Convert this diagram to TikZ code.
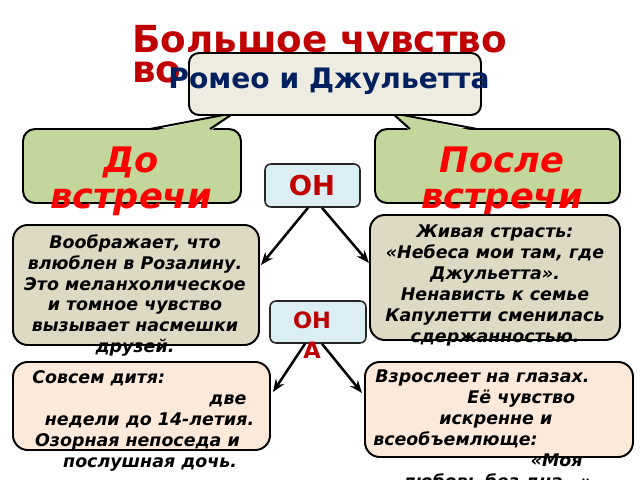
\documentclass[tikz,border=0pt]{standalone}
\usepackage{fontspec}
\setmainfont{DejaVu Sans}
\usetikzlibrary{fit,calc,arrows.meta}
\definecolor{titlered}{HTML}{C00000}
\definecolor{navy}{HTML}{002060}
\definecolor{mainfill}{HTML}{EEECE1}
\definecolor{greenfill}{HTML}{C3D69B}
\definecolor{tanfill}{HTML}{DDD9C3}
\definecolor{peachfill}{HTML}{FDE9D9}
\definecolor{bluefill}{HTML}{DBEEF4}
\definecolor{brightred}{HTML}{FF0000}
\tikzset{
  box/.style={draw=black, line width=1.4pt, rounded corners=0.37cm, inner sep=0pt},
  smallbox/.style={draw=black!85, line width=1.1pt, rounded corners=0.15cm, inner sep=0pt, fill=bluefill},
  pointer/.style={draw=black, line width=1.4pt, line join=round},
  bodytext/.style={font=\fontsize{12.4}{14.9}\selectfont\bfseries\itshape, inner sep=0pt, text=black, align=center},
  calltext/.style={font=\fontsize{25}{25}\selectfont\bfseries\itshape, inner sep=0pt, text=brightred, align=center},
  ontext/.style={font=\fontsize{19.5}{21}\selectfont\bfseries, inner sep=0pt, text=titlered, align=center},
  arr/.style={line width=1.8pt, -{Stealth[length=9pt,width=7pt]}}
}
\begin{document}
\begin{tikzpicture}[x=0.025cm,y=-0.025cm]
\clip (0,0) rectangle (640,480);
\fill[white] (0,0) rectangle (640,480);
% title
\node[anchor=north west, inner sep=0pt, text=titlered, align=left,
      font=\fontsize{26.5}{20}\selectfont\bfseries] (title) at (132,25) {Большое чувство\\во};
% callouts
\node[box, rounded corners=0.3cm, fill=greenfill, fit={(23,129) (241,203)}] (before) {};
\fill[greenfill] (150,131.5) -- (234,113) -- (210,131.5) -- cycle;
\draw[pointer] (150,129) -- (234,113) -- (210,129);
\node[box, rounded corners=0.3cm, fill=greenfill, fit={(375,129) (620,203)}] (after) {};
\fill[greenfill] (410,131.5) -- (392,113) -- (477,131.5) -- cycle;
\draw[pointer] (410,129) -- (392,113) -- (477,129);
% main box
\node[box, rounded corners=0.25cm, fill=mainfill, fit={(189,53) (481,115)}] (main) {};
\node[anchor=base, inner sep=0pt, text=navy, font=\fontsize{20}{24}\selectfont\bfseries] (maint) at (329,89) {Ромео и Джульетта};
% callout texts
\node[calltext, anchor=north] (beforet) at (131,147) {До\\встречи};
\node[calltext, anchor=north] (aftert) at (502,147) {После\\встречи};
% middle boxes
\node[box, fill=tanfill, fit={(13,225) (259,345)}] (lbox) {};
\node[box, fill=tanfill, fit={(370,215) (620,340)}] (rbox) {};
% bottom boxes
\node[box, fill=peachfill, fit={(13,362) (270,450)}] (blbox) {};
\node[box, fill=peachfill, fit={(365,362) (633,457)}] (brbox) {};
% he / she boxes
\node[smallbox, fit={(265,164) (360,207)}] (on1) {};
\node[smallbox, fit={(270,301) (366,343)}] (on2) {};
% arrows
\draw[arr] ($(on1.south)+(-4.5,0)$) -- ($(lbox.east)+(1,-20)$);
\draw[arr] ($(on1.south)+(9.5,0)$) -- ($(rbox.west)+(0,-14.5)$);
\draw[arr] ($(on2.south)+(-13,0)$) -- ($(blbox.east)+(2,-14)$);
\draw[arr] ($(on2.south)+(4,0)$) -- ($(brbox.west)+(-2,-16.5)$);
% texts
\node[ontext, anchor=base] (on1t) at (312,195) {ОН};
\node[ontext, anchor=north, font=\fontsize{16}{21.3}\selectfont\bfseries] (on2t) at (312,311.5) {ОН\\А};
\node[bodytext, anchor=north] (lboxt) at (135,234) {Воображает, что\\влюблен в Розалину.\\Это меланхолическое\\и томное чувство\\вызывает насмешки\\друзей.};
\node[bodytext, anchor=north] (rboxt) at (495,225) {Живая страсть:\\«Небеса мои там, где\\Джульетта».\\Ненависть к семье\\Капулетти сменилась\\сдержанностью.};
\node[bodytext, anchor=north west, align=left] (blboxt) at (32,370) {Совсем дитя:\\\hspace*{126pt}две\\\hspace*{9pt}недели до 14-летия.\\\hspace*{2pt}Озорная непоседа и\\\hspace*{22pt}послушная дочь.};
\node[bodytext, anchor=north west, align=left] (brboxt) at (373,370) {\hspace*{1.5pt}Взрослеет на глазах.\\\hspace*{67pt}Её чувство\\\hspace*{47pt}искренне и\\всеобъемлюще:\\\hspace*{112pt}«Моя\\\hspace*{21pt}любовь без дна…»};
\end{tikzpicture}
\end{document}
